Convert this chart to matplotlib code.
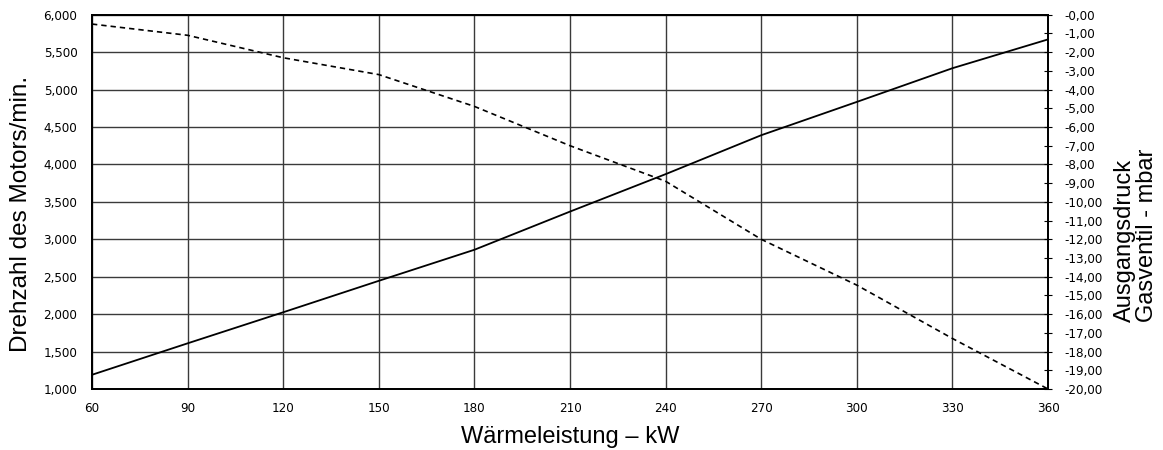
import matplotlib
matplotlib.use("Agg")
import matplotlib.pyplot as plt
from matplotlib.ticker import FuncFormatter, MultipleLocator
from matplotlib import font_manager as fm

# Data
kw = [60, 90, 120, 150, 180, 210, 240, 270, 300, 330, 360]
rpm = [1190, 1610, 2025, 2445, 2860, 3370, 3870, 4390, 4835, 5285, 5670]
pressure = [-0.5, -1.1, -2.3, -3.2, -4.9, -7.0, -8.9, -12.0, -14.45, -17.3, -20.0]

x_ticks = [60, 90, 120, 150, 180, 210, 240, 270, 300, 330, 360]
x_label = "Wärmeleistung – kW"
y_left_label = "Drehzahl des Motors/min."
y_right_label = "Ausgangsdruck\nGasventil - mbar"

W, H = 1163, 450
sans = ["Liberation Sans", "DejaVu Sans"]
tick_fp = fm.FontProperties(family="DejaVu Sans", stretch="condensed", size=9.5)

fig = plt.figure(figsize=(W / 100, H / 100), dpi=100)
ax = fig.add_axes([92 / W, 1 - 389 / H, (1048 - 92) / W, (389 - 14.7) / H])
ax2 = ax.twinx()

ax.plot(kw, rpm, color="black", lw=1.3, solid_joinstyle="miter")
ax2.plot(kw, pressure, color="black", lw=1.2, dashes=(3.2, 2.4))

ax.set_xlim(60, 360)
ax.set_ylim(1000, 6000)
ax2.set_ylim(-20, 0)
ax.set_xticks(x_ticks)
ax.yaxis.set_major_locator(MultipleLocator(500))
ax2.yaxis.set_major_locator(MultipleLocator(1))

ax.yaxis.set_major_formatter(FuncFormatter(lambda v, p: f"{int(v):,}"))
ax2.yaxis.set_major_formatter(FuncFormatter(lambda v, p: f"-{abs(v):.2f}".replace(".", ",")))

ax.grid(True, color="#3a3a3a", lw=1.0)
ax.set_axisbelow(True)

ax.tick_params(axis="y", length=0, pad=10.5)
ax.tick_params(axis="x", length=0, pad=9)
ax2.tick_params(axis="y", direction="inout", length=6, width=0.8, pad=8.5)
for lbl in ax.get_xticklabels() + ax.get_yticklabels() + ax2.get_yticklabels():
    lbl.set_fontproperties(tick_fp)

for s in list(ax.spines.values()) + list(ax2.spines.values()):
    s.set_linewidth(1.3)
    s.set_color("black")

ax.set_xlabel(x_label, fontsize=17, family=sans, labelpad=8)
fig.text(21 / W, 1 - 214 / H, y_left_label, rotation=90, ha="center", va="center",
         fontsize=17.5, family=sans)
fig.text(1136 / W, 1 - 322 / H, y_right_label, rotation=90, ha="center", va="bottom",
         multialignment="left", fontsize=17, family=sans, linespacing=0.98)

fig.savefig("out.png", dpi=100)
